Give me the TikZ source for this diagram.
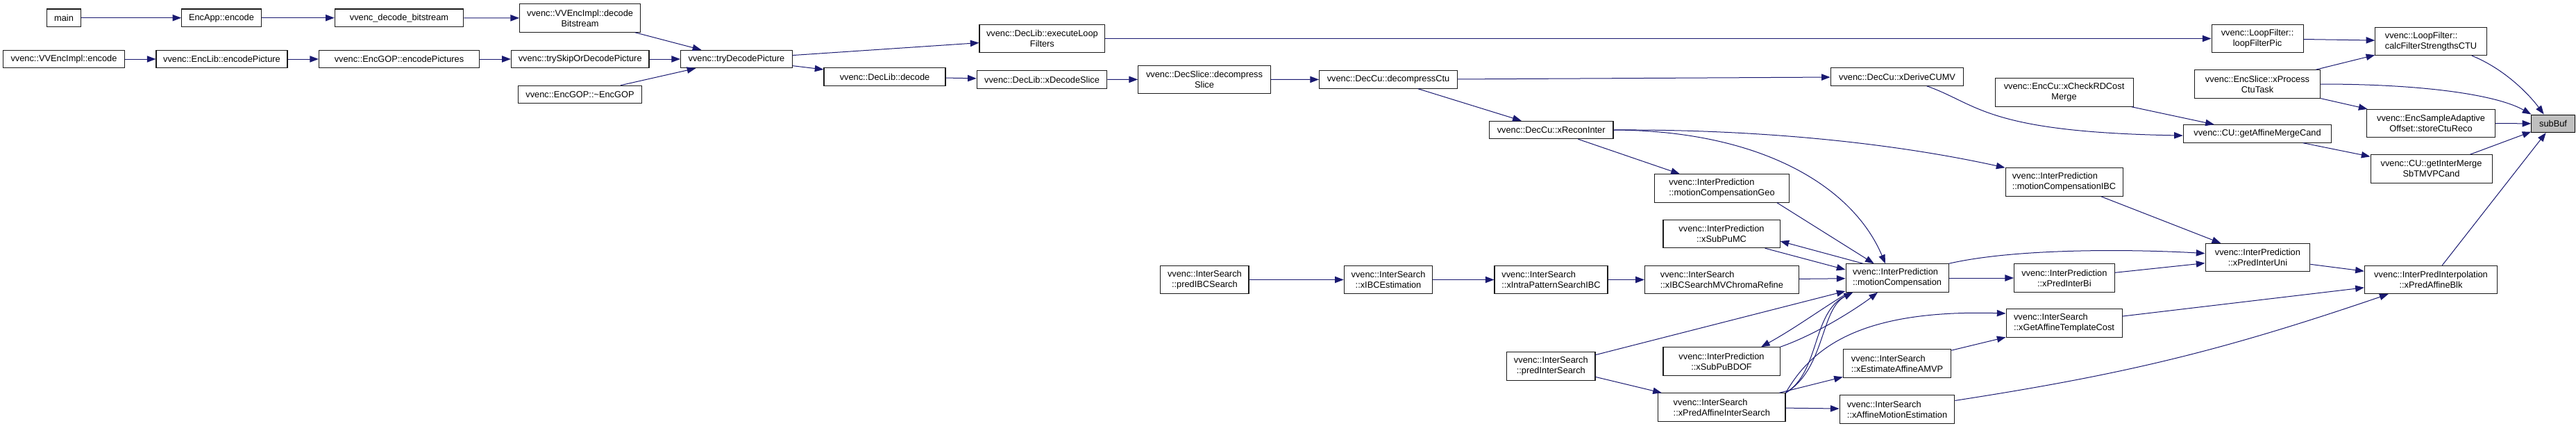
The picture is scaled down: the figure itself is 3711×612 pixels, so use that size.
\documentclass[tikz,border=0pt]{standalone}
\usepackage{fontspec}
\setmainfont{Liberation Sans}
\usetikzlibrary{arrows.meta}
\definecolor{edgeblue}{HTML}{191970}
\definecolor{boxline}{HTML}{1A1A1A}

\begin{document}
\begin{tikzpicture}[x=0.75pt,y=-0.75pt,
  fn/.style={draw=boxline, line width=0.8pt, fill=white, minimum height=19.1pt, inner sep=1pt, font=\fontsize{9.6}{11.2}\selectfont},
  fn2/.style={fn, minimum height=30.3pt, align=center},
  fnl/.style={fn, minimum height=30.3pt, align=left},
  call/.style={draw=edgeblue, line width=0.75pt, -{Triangle[length=9.5pt,width=7pt]}}]
\useasboundingbox (0,0) rectangle (3711,612);
%% nodes
\node[fn, minimum width=36.75pt] (main) at (92,25.7) {main};
\node[fn, minimum width=85.9pt] (encAppEncode) at (319,25.7) {EncApp::encode};
\node[fn, minimum width=139.1pt] (decBitstream) at (575,25.7) {vvenc\_decode\_bitstream};
\node[fn2, minimum width=130.5pt] (implDecode) at (835.6,26) {vvenc::VVEncImpl::decode\\Bitstream};

\node[fn, minimum width=130.7pt] (implEncode) at (92,85) {vvenc::VVEncImpl::encode};
\node[fn, minimum width=141.75pt] (encodePicture) at (319.5,85) {vvenc::EncLib::encodePicture};
\node[fn, minimum width=173.25pt] (encodePictures) at (575,85) {vvenc::EncGOP::encodePictures};
\node[fn, minimum width=148.9pt] (trySkip) at (835.7,85) {vvenc::trySkipOrDecodePicture};
\node[fn, minimum width=133.8pt] (encGopDtor) at (835.5,136) {vvenc::EncGOP::\textasciitilde EncGOP};

\node[fn, minimum width=120.6pt] (tryDecode) at (1061,85) {vvenc::tryDecodePicture};
\node[fn, minimum width=131.25pt] (decLibDecode) at (1274.5,110.5) {vvenc::DecLib::decode};
\node[fn2, minimum width=135.6pt] (execLoop) at (1501.4,55.5) {vvenc::DecLib::executeLoop\\Filters};
\node[fn, minimum width=140.6pt] (xDecodeSlice) at (1501,114.5) {vvenc::DecLib::xDecodeSlice};
\node[fn2, minimum width=143pt] (decompSlice) at (1735,114.3) {vvenc::DecSlice::decompress\\Slice};
\node[fn2, minimum width=95.4pt] (predIBC) at (1735.4,402.5) {vvenc::InterSearch\\::predIBCSearch};

\node[fn, minimum width=149.1pt] (decompCtu) at (2000,114.5) {vvenc::DecCu::decompressCtu};
\node[fn2, minimum width=95.6pt] (xIBCEst) at (2000,402.5) {vvenc::InterSearch\\::xIBCEstimation};
\node[fn, minimum width=133.9pt] (xReconInter) at (2234.7,187) {vvenc::DecCu::xReconInter};
\node[fnl, minimum width=122.25pt] (xIntraPat) at (2234.5,402.5) {vvenc::InterSearch\\::xIntraPatternSearchIBC};
\node[fn2, minimum width=95.5pt] (predInter) at (2234.3,527) {vvenc::InterSearch\\::predInterSearch};

\node[fnl, minimum width=145.5pt] (mcGeo) at (2480.5,271) {vvenc::InterPrediction\\::motionCompensationGeo};
\node[fn2, minimum width=126pt] (xSubPuMC) at (2480,336.5) {vvenc::InterPrediction\\::xSubPuMC};
\node[fnl, minimum width=166.5pt] (xIBCChroma) at (2480.4,402.5) {vvenc::InterSearch\\::xIBCSearchMVChromaRefine};
\node[fn2, minimum width=126pt] (xSubPuBDOF) at (2480,520) {vvenc::InterPrediction\\::xSubPuBDOF};
\node[fnl, minimum width=137.5pt] (xPredAffSearch) at (2480.3,586) {vvenc::InterSearch\\::xPredAffineInterSearch};

\node[fn, minimum width=143.7pt] (xDeriveCUMV) at (2733,110.5) {vvenc::DecCu::xDeriveCUMV};
\node[fnl, minimum width=111pt] (mc) at (2733,400) {vvenc::InterPrediction\\::motionCompensation};
\node[fnl, minimum width=116.5pt] (xEstAMVP) at (2733,523) {vvenc::InterSearch\\::xEstimateAffineAMVP};
\node[fnl, minimum width=124.3pt] (xAffME) at (2733,589) {vvenc::InterSearch\\::xAffineMotionEstimation};

\node[fn2, minimum width=149.25pt] (xCheckRD) at (2973.5,133) {vvenc::EncCu::xCheckRDCost\\Merge};
\node[fnl, minimum width=126.75pt] (mcIBC) at (2973.5,262) {vvenc::InterPrediction\\::motionCompensationIBC};
\node[fn2, minimum width=108.3pt] (xPredInterBi) at (2973.8,400) {vvenc::InterPrediction\\::xPredInterBi};
\node[fnl, minimum width=125.25pt] (xGetAffTpl) at (2973.5,465) {vvenc::InterSearch\\::xGetAffineTemplateCost};

\node[fn2, minimum width=99pt] (loopFilterPic) at (3252,55.5) {vvenc::LoopFilter::\\loopFilterPic};
\node[fn2, minimum width=136pt] (xProcCtu) at (3252,121) {vvenc::EncSlice::xProcess\\CtuTask};
\node[fn, minimum width=160.1pt] (affMerge) at (3252,192.4) {vvenc::CU::getAffineMergeCand};
\node[fn2, minimum width=113.1pt] (xPredInterUni) at (3252.4,370.6) {vvenc::InterPrediction\\::xPredInterUni};

\node[fnl, minimum width=120.3pt] (calcFS) at (3502,59.3) {vvenc::LoopFilter::\\calcFilterStrengthsCTU};
\node[fn2, minimum width=138.4pt] (storeCtu) at (3502,177.6) {vvenc::EncSampleAdaptive\\Offset::storeCtuReco};
\node[fn2, minimum width=131.25pt] (sbTMVP) at (3502.5,243) {vvenc::CU::getInterMerge\\SbTMVPCand};
\node[fn2, minimum width=143.5pt] (xPredAffBlk) at (3502,402.5) {vvenc::InterPredInterpolation\\::xPredAffineBlk};

\node[fn, draw=black, fill=black!25, minimum width=46.7pt] (subBuf) at (3678,177.8) {subBuf};

%% calls
\draw[call] (main) -- (encAppEncode);
\draw[call] (encAppEncode) -- (decBitstream);
\draw[call] (decBitstream) -- (implDecode);
\draw[call] (implDecode) -- (tryDecode);
\draw[call] (implEncode) -- (encodePicture);
\draw[call] (encodePicture) -- (encodePictures);
\draw[call] (encodePictures) -- (trySkip);
\draw[call] (trySkip) -- (tryDecode);
\draw[call] (encGopDtor) -- (tryDecode);
\draw[call] (tryDecode) -- (execLoop);
\draw[call] (tryDecode) -- (decLibDecode);
\draw[call] (decLibDecode) -- (xDecodeSlice);
\draw[call] (xDecodeSlice) -- (decompSlice);
\draw[call] (decompSlice) -- (decompCtu);
\draw[call] (execLoop) -- (loopFilterPic);
\draw[call] (loopFilterPic) -- (calcFS);

\draw[call] (decompCtu) -- (xDeriveCUMV);
\draw[call] (decompCtu) -- (xReconInter);
\draw[call] (xReconInter.east) .. controls (2500,186) and (2700,200) .. (mcIBC.north west);
\draw[call] (xReconInter.east) .. controls (2540,188) and (2670,270) .. ([xshift=-12.75pt]mc.north);
\draw[call] (xReconInter) -- (mcGeo);
\draw[call] ([xshift=32pt]xDeriveCUMV.south) .. controls (2850,150) and (2860,190) .. ([yshift=-2pt]affMerge.west);
\draw[call] (xCheckRD) -- (affMerge);

\draw[call] (xProcCtu) -- (calcFS);
\draw[call] (xProcCtu.east) .. controls (3500,121) and (3600,138) .. (subBuf.north west);
\draw[call] (xProcCtu) -- (storeCtu);
\draw[call] (storeCtu) -- (subBuf);
\draw[call] ([xshift=44pt]calcFS.south) .. controls (3610,100) and (3645,138) .. ([xshift=-10pt]subBuf.north);
\draw[call] (affMerge) -- (sbTMVP);
\draw[call] (sbTMVP) -- (subBuf);
\draw[call] (xPredAffBlk) -- (subBuf);

\draw[call] (mcIBC) -- (xPredInterUni);
\draw[call] (mc.north east) .. controls (2900,358) and (3060,358) .. ([yshift=4.5pt]xPredInterUni.west);
\draw[call] (xPredInterBi) -- (xPredInterUni);
\draw[call] (mc) -- (xPredInterBi);
\draw[call] (xPredInterUni) -- (xPredAffBlk);
\draw[call] (xGetAffTpl) -- (xPredAffBlk);
\draw[call] (xAffME) to[bend right=5] (xPredAffBlk);
\draw[call] (xEstAMVP) -- (xGetAffTpl);

\draw[call] (xPredAffSearch.north east) .. controls (2610,500) and (2680,445) .. ([yshift=10.5pt]xGetAffTpl.west);
\draw[call] (xPredAffSearch) -- (xEstAMVP);
\draw[call] (xPredAffSearch) -- (xAffME);
\draw[call] (xPredAffSearch.north east) .. controls (2622,535) and (2610,450) .. ([xshift=8pt]mc.south west);
\draw[call] (xPredAffSearch.north east) .. controls (2630,530) and (2622,445) .. ([xshift=8pt]mc.south west);
\draw[call] (predInter) -- (mc);
\draw[call] (predInter) -- (xPredAffSearch);
\draw[call] (xIBCChroma) -- (mc);
\draw[call] ([xshift=47pt]xSubPuMC.south) -- ([yshift=9pt]mc.west);
\draw[call] ([xshift=-36.75pt]mc.north) -- ([yshift=-7.9pt]xSubPuMC.east);
\draw[call] ([xshift=4pt]mc.south west) .. controls (2630,440) and (2590,470) .. ([xshift=42.75pt]xSubPuBDOF.north);
\draw[call] (xSubPuBDOF.north east) .. controls (2620,480) and (2680,440) .. ([xshift=-21pt]mc.south);
\draw[call] ([xshift=59.6pt]mcGeo.south) -- ([xshift=-25pt]mc.north);

\draw[call] (predIBC) -- (xIBCEst);
\draw[call] (xIBCEst) -- (xIntraPat);
\draw[call] (xIntraPat) -- (xIBCChroma);
\end{tikzpicture}
\end{document}
